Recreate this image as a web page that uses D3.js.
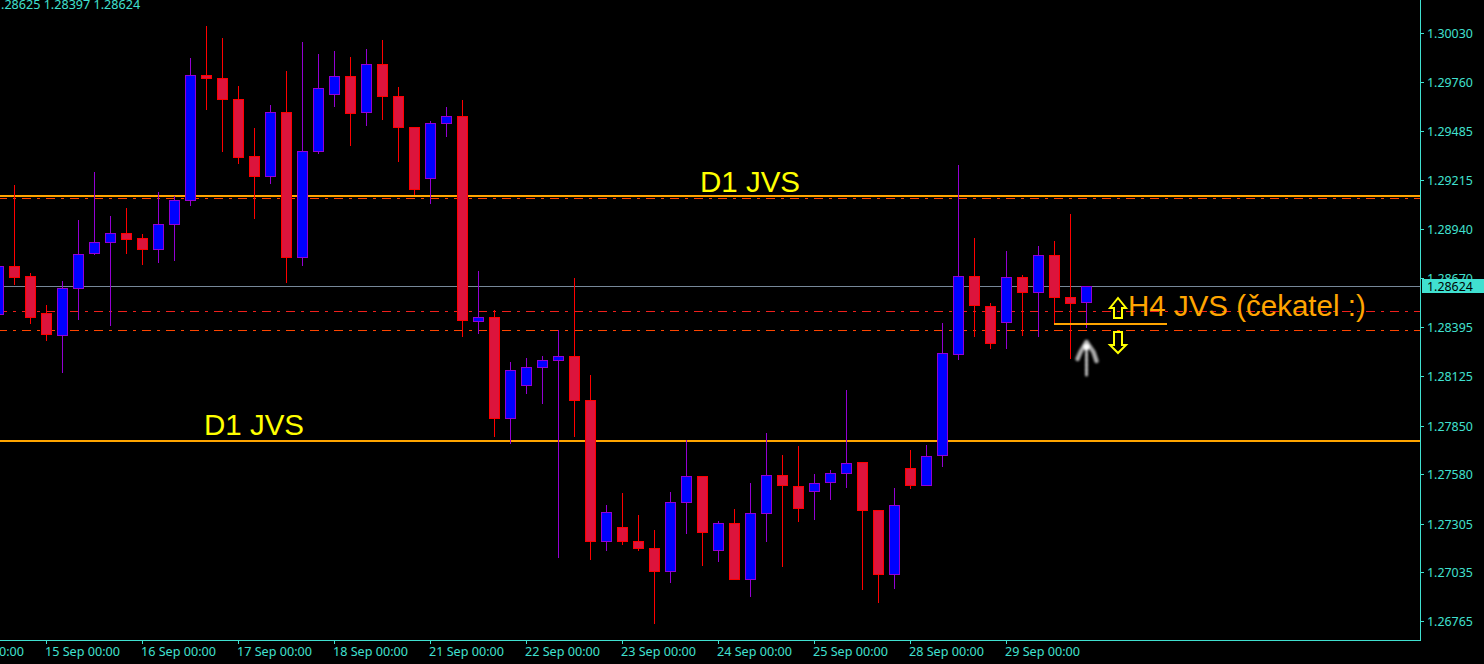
<!DOCTYPE html>
<html><head><meta charset="utf-8">
<script src="https://cdn.jsdelivr.net/npm/d3@7/dist/d3.min.js"></script>
<style>html,body{margin:0;padding:0;background:#000;overflow:hidden}svg{display:block}</style>
</head><body>
<svg id="c" width="1484" height="664"></svg>
<script>
const opens=[1.28464,1.28736,1.28681,1.28475,1.28348,1.28609,1.28803,1.28864,1.28920,1.28892,1.28825,1.28964,1.29097,1.29797,1.29780,1.29664,1.29347,1.29230,1.29591,1.28781,1.29369,1.29686,1.29791,1.29586,1.29858,1.29680,1.29508,1.29219,1.29525,1.29569,1.28425,1.28453,1.27887,1.28070,1.28170,1.28209,1.28236,1.27992,1.27204,1.27287,1.27209,1.27170,1.27037,1.27420,1.27570,1.27154,1.27309,1.26993,1.27359,1.27576,1.27515,1.27481,1.27531,1.27581,1.27648,1.27381,1.27020,1.27615,1.27515,1.27681,1.28242,1.28681,1.28514,1.28420,1.28675,1.28586,1.28797,1.28564,1.28531];
const highs=[1.28736,1.29186,1.28697,1.28520,1.28653,1.28992,1.29258,1.29014,1.29058,1.28914,1.29147,1.29125,1.29891,1.30069,1.30002,1.29736,1.29503,1.29630,1.29819,1.29980,1.29913,1.29930,1.29897,1.29941,1.29991,1.29730,1.29508,1.29541,1.29619,1.29658,1.28708,1.28492,1.28203,1.28225,1.28236,1.28381,1.28670,1.28131,1.27409,1.27476,1.27354,1.27270,1.27481,1.27770,1.27570,1.27320,1.27387,1.27531,1.27809,1.27687,1.27737,1.27581,1.27604,1.28048,1.27648,1.27381,1.27504,1.27715,1.27742,1.28420,1.29297,1.28892,1.28531,1.28820,1.28686,1.28847,1.28875,1.29025,1.28625];
const lows=[1.28464,1.28631,1.28414,1.28320,1.28142,1.28436,1.28797,1.28403,1.28803,1.28742,1.28753,1.28764,1.29069,1.29602,1.29369,1.29303,1.28997,1.29192,1.28642,1.28736,1.29358,1.29619,1.29403,1.29514,1.29547,1.29314,1.29130,1.29080,1.29452,1.28342,1.28359,1.27787,1.27748,1.28025,1.27970,1.27115,1.27787,1.27104,1.27154,1.27187,1.27154,1.26748,1.26976,1.27248,1.27070,1.27093,1.26993,1.26898,1.27204,1.27065,1.27315,1.27326,1.27437,1.27504,1.26937,1.26865,1.26943,1.27498,1.27515,1.27620,1.28214,1.28342,1.28275,1.28275,1.28348,1.28342,1.28409,1.28220,1.28392];
const closes=[1.28736,1.28670,1.28448,1.28353,1.28614,1.28803,1.28870,1.28920,1.28881,1.28825,1.28969,1.29103,1.29797,1.29775,1.29658,1.29336,1.29230,1.29591,1.28781,1.29375,1.29725,1.29791,1.29580,1.29858,1.29675,1.29503,1.29158,1.29530,1.29569,1.28431,1.28453,1.27887,1.28159,1.28175,1.28214,1.28236,1.27987,1.27204,1.27370,1.27204,1.27165,1.27037,1.27426,1.27570,1.27254,1.27309,1.26993,1.27365,1.27576,1.27515,1.27387,1.27531,1.27587,1.27642,1.27376,1.27020,1.27409,1.27515,1.27681,1.28253,1.28681,1.28514,1.28303,1.28675,1.28586,1.28797,1.28559,1.28525,1.28625];

const priceTicks=[1.30030,1.29760,1.29485,1.29215,1.28940,1.28670,1.28395,1.28125,1.27850,1.27580,1.27305,1.27035,1.26765];
const timeTickBars=[-3,3,9,15,21,27,33,39,45,51,57,63];
const timeTickLabels=["14 Sep 00:00","15 Sep 00:00","16 Sep 00:00","17 Sep 00:00","18 Sep 00:00","21 Sep 00:00","22 Sep 00:00","23 Sep 00:00","24 Sep 00:00","25 Sep 00:00","28 Sep 00:00","29 Sep 00:00"];
const d1Upper=1.29125, d1UpperDash=1.29114, d1Lower=1.27765;
const h4Dash=1.28487, h4Dash2=1.28381, h4Level=1.28414, bid=1.28624;
const ohlcText=".28625 1.28397 1.28624";
const turq="#40E0D0", orange="#FFA500", orangeRed="#FF4500", axisFont="'Noto Sans',sans-serif", noteFont="'Liberation Sans',Arial,sans-serif";

const svg=d3.select("#c");
const W=1420,B=640;
const x=d3.scaleLinear().domain([0,68]).rangeRound([-2,1086]);
const y=d3.scaleLinear().domain([1.26765,1.30030]).rangeRound([621,33]);
const defs=svg.append("defs");
defs.append("filter").attr("id","bl").attr("x","-40%").attr("y","-40%").attr("width","180%").attr("height","180%")
  .append("feGaussianBlur").attr("stdDeviation",1.1);
defs.append("clipPath").attr("id","plot").append("rect").attr("width",W).attr("height",B);

const plot=svg.append("g").attr("clip-path","url(#plot)");

// level lines behind the candles
const dashDot="9 6 3 6";
[[d1Upper,orange,2,null,0],[d1Lower,orange,2,null,0],[bid,"#778899",1,null,.5],
 [d1UpperDash,orangeRed,1,dashDot,.5],[h4Dash2,orangeRed,1,dashDot,.5],[h4Dash,"#F0201C",1,dashDot,.5]]
 .forEach(([p,c,w,dash,off])=>{
  plot.append("line").attr("x1",0).attr("x2",W).attr("y1",y(p)+off).attr("y2",y(p)+off)
   .attr("stroke",c).attr("stroke-width",w).attr("stroke-dasharray",dash).attr("stroke-dashoffset",dash?2:null)
   .attr("shape-rendering","crispEdges");
 });

// candles
const rows=d3.range(opens.length).map(i=>({i,o:opens[i],h:highs[i],l:lows[i],c:closes[i],up:closes[i]>opens[i]}));
const g=plot.selectAll("g.k").data(rows).join("g").attr("class","k");
g.append("rect").attr("x",d=>x(d.i)).attr("width",1)
 .attr("y",d=>y(d.h)).attr("height",d=>Math.max(1,y(d.l)-y(d.h)))
 .attr("fill",d=>d.up?"#9400D3":"#FF0000");
g.append("rect").attr("x",d=>x(d.i)-5+.5).attr("width",10)
 .attr("y",d=>y(Math.max(d.o,d.c))+.5)
 .attr("height",d=>Math.max(1,y(Math.min(d.o,d.c))-y(Math.max(d.o,d.c))-1))
 .attr("fill",d=>d.up?"#0000FF":"#DC143C")
 .attr("stroke",d=>d.up?"#9400D3":"#FF0000").attr("stroke-width",1);

// H4 candidate level
plot.append("line").attr("x1",x(66)).attr("x2",x(66)+113).attr("y1",y(h4Level)).attr("y2",y(h4Level))
 .attr("stroke",orange).attr("stroke-width",2);

// hollow arrows beside the H4 note
const ax=x(68)+32, ay=y(h4Level);
const up=[[0,-26],[8,-16],[4,-16],[4,-6],[-4,-6],[-4,-16],[-8,-16]];
const dn=[[-4,8],[4,8],[4,21],[8,21],[0,29],[-8,21],[-4,21]];
[up,dn].forEach(s=>plot.append("path").attr("d",d3.line().x(d=>ax+d[0]).y(d=>ay+d[1]).curve(d3.curveLinearClosed)(s))
 .attr("fill","none").attr("stroke","#FFFF00").attr("stroke-width",2));

// blurred grey arrow under the last candle
const gx=x(68)+.5, gy=y(lows[68]);
const ga=plot.append("g").attr("filter","url(#bl)").attr("fill","none").attr("stroke-linecap","round");
ga.append("path").attr("d",d3.line().x(d=>gx+d[0]).y(d=>gy+d[1])([[-9,31],[-6,24],[0,14]])).attr("stroke","#aaa").attr("stroke-width",4.5);
ga.append("path").attr("d",d3.line().x(d=>gx+d[0]).y(d=>gy+d[1])([[10,33],[7,24],[0,14]])).attr("stroke","#aaa").attr("stroke-width",4.5);
ga.append("path").attr("d",d3.line().x(d=>gx+d[0]).y(d=>gy+d[1])([[0,15],[0,47]])).attr("stroke","#bbb").attr("stroke-width",3).attr("stroke-dasharray","4 1");
ga.append("circle").attr("cx",gx).attr("cy",gy+19).attr("r",3).attr("fill","#fff").attr("stroke","none");

// notes
const note=(t,xx,yy,c)=>plot.append("text").text(t).attr("x",xx).attr("y",yy).attr("fill",c)
 .attr("font-family",noteFont).attr("font-size",29.5);
note("D1 JVS",x(44)-2,y(d1Upper)-4.5,"#FFFF00");
note("D1 JVS",x(13)-2,y(d1Lower)-6,"#FFFF00");
note("H4 JVS (čekatel :)",x(68)+42,y(h4Level)-8,orange);

// axes
const axR=d3.axisRight(y).tickValues(priceTicks).tickSize(4).tickPadding(3).tickFormat(d3.format(".5f"));
const gr=svg.append("g").attr("transform",`translate(${W},0)`).call(axR);
const axB=d3.axisBottom(x).tickValues(timeTickBars).tickSize(4).tickFormat((d,i)=>timeTickLabels[i]);
const gb=svg.append("g").attr("transform",`translate(0,${B})`).call(axB);
[gr,gb].forEach(a=>{a.select(".domain").remove();a.selectAll("line").attr("stroke",turq);
 a.selectAll("text").attr("fill",turq).attr("font-family",axisFont).attr("font-size",12.4);});
gr.selectAll("text").attr("dy",null).attr("y",4.5);
gb.selectAll("text").attr("text-anchor","start").attr("dy",null).attr("x",-1.5).attr("y",16).attr("font-size",12.6);
svg.append("line").attr("x1",W+.5).attr("x2",W+.5).attr("y1",0).attr("y2",B+1).attr("stroke",turq);
svg.append("line").attr("x1",0).attr("x2",W+1).attr("y1",B+.5).attr("y2",B+.5).attr("stroke",turq);

// current price tag
svg.append("rect").attr("x",W+2).attr("y",y(bid)-7).attr("width",62).attr("height",14).attr("fill",turq);
svg.append("text").text(d3.format(".5f")(bid)).attr("x",W+7).attr("y",y(bid)+5).attr("fill","#000")
 .attr("font-family",axisFont).attr("font-size",12.4);

// header values
svg.append("text").text(ohlcText).attr("x",1).attr("y",9).attr("fill",turq)
 .attr("font-family",axisFont).attr("font-size",12.6);
</script>
</body></html>
